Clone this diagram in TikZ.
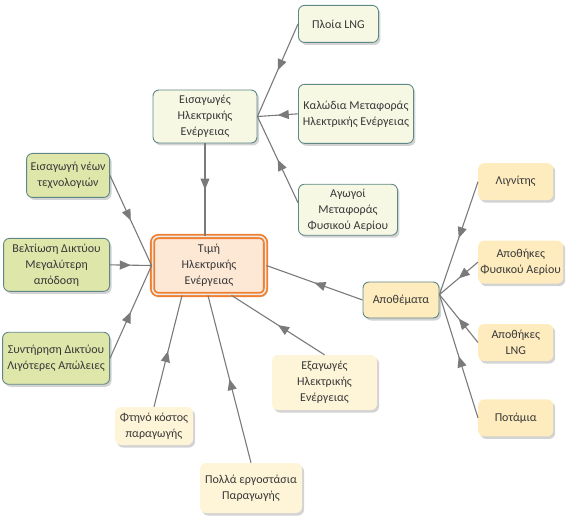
\documentclass[tikz,border=0pt]{standalone}
\usepackage{fontspec}
\setmainfont{Carlito}
\usetikzlibrary{arrows.meta, positioning, shadows, decorations.markings}
\definecolor{linegray}{RGB}{122,122,122}
\definecolor{edgeteal}{RGB}{95,135,135}
\definecolor{textgray}{RGB}{55,55,55}
\definecolor{priceorange}{RGB}{240,128,48}
\definecolor{pricefill}{RGB}{253,232,214}
\definecolor{lightcream}{RGB}{246,248,228}
\definecolor{lightolive}{RGB}{223,230,170}
\definecolor{lightsand}{RGB}{254,236,190}
\definecolor{lightivory}{RGB}{254,245,216}

\begin{document}
\begin{tikzpicture}[
    x=1pt, y={(0pt,-1pt)},
    box/.style={rounded corners=6pt, align=center, inner sep=2pt, text=textgray,
        font=\fontsize{12}{16}\selectfont,
        drop shadow={shadow xshift=2pt, shadow yshift=-2.5pt, opacity=0.35}},
    tealbox/.style={box, draw=edgeteal, line width=0.9pt},
    link/.style={color=linegray, line width=1.1pt, postaction={decorate},
        decoration={markings, mark=at position 0.5 with {\arrow{Triangle[length=11pt, width=9pt]}}}},
]
    \useasboundingbox (0,0) rectangle (575,526);

    \node[box, fill=pricefill, draw=priceorange, line width=1.8pt, double=gray!15, double distance=1.5pt,
        minimum width=113pt, minimum height=58pt] (price) at (209,265.5) {Τιμή\\Ηλεκτρικής\\Ενέργειας};

    \node[tealbox, fill=lightcream, minimum width=104pt, minimum height=53pt] (imp) at (205,116.5) {Εισαγωγές\\Ηλεκτρικής\\Ενέργειας};
    \node[tealbox, fill=lightcream, minimum width=80pt, minimum height=37pt, anchor=north west] (ship) at (298,5) {Πλοία LNG};
    \node[tealbox, fill=lightcream, minimum width=115pt, minimum height=59pt, below=41pt of ship.south west, anchor=north west] (cable) {Καλώδια Μεταφοράς\\Ηλεκτρικής Ενέργειας};
    \node[tealbox, fill=lightcream, minimum width=99pt, minimum height=51pt, below=40pt of cable.south west, anchor=north west] (pipe) {Αγωγοί\\Μεταφοράς\\Φυσικού Αερίου};

    \node[tealbox, fill=lightolive, minimum width=83pt, minimum height=44pt, anchor=north east] (tech) at (110,153) {Εισαγωγή νέων\\τεχνολογιών};
    \node[tealbox, fill=lightolive, minimum width=106pt, minimum height=53pt, below=40pt of tech.south east, anchor=north east] (grid) {Βελτίωση Δικτύου\\Μεγαλύτερη\\απόδοση};
    \node[tealbox, fill=lightolive, minimum width=107pt, minimum height=52pt, below=40pt of grid.south east, anchor=north east] (maint) {Συντήρηση Δικτύου\\Λιγότερες Απώλειες};

    \node[tealbox, fill=lightsand, minimum width=76pt, minimum height=36pt] (stock) at (401,300) {Αποθέματα};
    \node[box, fill=lightsand, minimum width=75pt, minimum height=37pt, anchor=north west] (lignite) at (478,163) {Λιγνίτης};
    \node[box, fill=lightsand, minimum width=85pt, minimum height=43pt, below=40pt of lignite.south west, anchor=north west] (gas) {Αποθήκες\\Φυσικού Αερίου};
    \node[box, fill=lightsand, minimum width=75pt, minimum height=37pt, below=40pt of gas.south west, anchor=north west] (lng) {Αποθήκες\\LNG};
    \node[box, fill=lightsand, minimum width=75pt, minimum height=37pt, below=38pt of lng.south west, anchor=north west] (river) {Ποτάμια};

    \node[box, fill=lightivory, minimum width=105pt, minimum height=55pt] (exp) at (324.5,382.5) {Εξαγωγές\\Ηλεκτρικής\\Ενέργειας};
    \node[box, fill=lightivory, minimum width=78pt, minimum height=38pt] (cheap) at (154,426) {Φτηνό κόστος\\παραγωγής};
    \node[box, fill=lightivory, minimum width=102pt, minimum height=50pt] (plants) at (251,488) {Πολλά εργοστάσια\\Παραγωγής};

    \draw[link] (ship.west) -- (imp.east);
    \draw[link] (cable.west) -- (imp.east);
    \draw[link] (pipe.172) -- (imp.east);
    \draw[link] (imp.south) -- (imp.south |- price.north);

    \draw[link] (tech.east) -- (price.west);
    \draw[link] (grid.east) -- (price.west);
    \draw[link] (maint.east) -- (price.west);

    \draw[link] (lignite.west) -- (stock.8);
    \draw[link] (gas.west) -- (stock.8);
    \draw[link] (lng.west) -- (stock.8);
    \draw[link] (river.west) -- (stock.8);
    \draw[link] (stock.west) -- (price.east);

    \draw[link] (exp.north) -- (price.-53);
    \draw[link] (cheap.north) -- (price.-132);
    \draw[link] (plants.north) -- (price.-92);
\end{tikzpicture}
\end{document}
